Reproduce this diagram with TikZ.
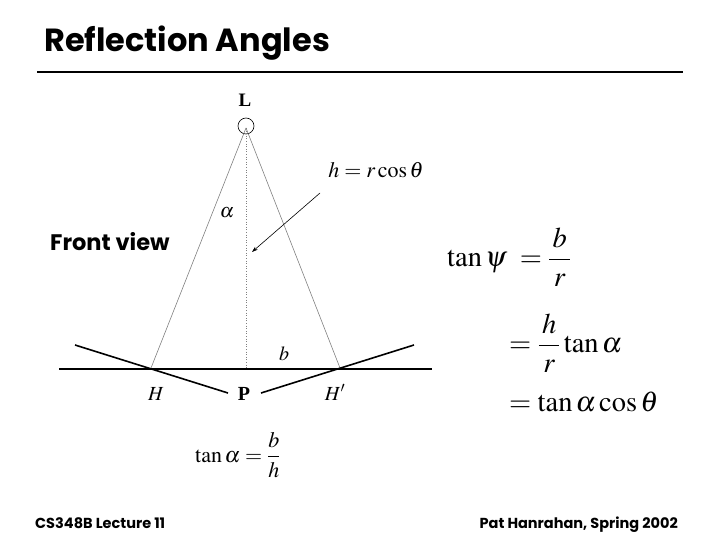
\documentclass[tikz,border=0pt]{standalone}
\usepackage{amsmath}
\usepackage{mathptmx}
\usepackage{fontspec}
\setmainfont{Liberation Serif}
\newfontfamily\futura{Poppins}
\usetikzlibrary{arrows.meta}
\tikzset{
  thinray/.style={draw=gray, line width=0.6pt},
  mirror/.style={draw=black, line width=1.6pt},
  lbl/.style={inner sep=0pt, anchor=base},
  eqbig/.style={inner sep=0pt, font=\fontsize{28.5}{32}\selectfont},
  eqsmall/.style={inner sep=0pt, font=\fontsize{22}{26}\selectfont},
  headfont/.style={inner sep=0pt, anchor=base west, font=\futura\bfseries\fontsize{32}{38}\selectfont},
  footfont/.style={inner sep=0pt, font=\futura\bfseries\fontsize{14.5}{17}\selectfont},
}
\begin{document}
\begin{tikzpicture}[x=1pt, y=-1pt]
\useasboundingbox (0,0) rectangle (720,540);
% title
\node[headfont] (title) at (44,52) {Reflection Angles};
\draw[line width=2pt] (37,72) coordinate (r1) -- (683,72) coordinate (r2);
% light
\node[lbl, font=\bfseries\fontsize{19}{22}\selectfont] (Llbl) at (245,107) {L};
\node[draw, circle, minimum size=16pt, inner sep=0pt, line width=0.6pt] (Lc) at (246,126) {};
\coordinate (apex) at (246,128);
\coordinate (H) at (151,368);
\coordinate (Hp) at (340,368);
\coordinate (foot) at (246,368);
\draw[thinray] (apex) -- (H);
\draw[thinray] (apex) -- (Hp);
\draw[gray, line width=0.6pt, dotted] (apex) -- (foot);
% surfaces
\coordinate (g1) at (59,369);
\coordinate (g2) at (432,369);
\draw[mirror] (g1) -- (g2);
\coordinate (m1a) at (75,345);
\coordinate (m1b) at (228,393);
\coordinate (m2a) at (261,393);
\coordinate (m2b) at (414,345);
\draw[mirror] (m1a) -- (m1b);
\draw[mirror] (m2a) -- (m2b);
% labels
\node[lbl, font=\fontsize{20}{24}\selectfont] (Hl) at (156,400) {$H$};
\node[lbl, font=\bfseries\fontsize{20}{24}\selectfont] (Pl) at (244,400) {P};
\node[lbl, font=\fontsize{20}{24}\selectfont] (Hpl) at (335,400) {$H'$};
\node[lbl, font=\fontsize{20}{24}\selectfont] (bl) at (284,360) {$b$};
\node[lbl, font=\fontsize{20}{24}\selectfont] (al) at (227,218) {$\alpha$};
\node[lbl, font=\fontsize{22}{26}\selectfont] (hr) at (376,178) {$h = r\cos\theta$};
\coordinate (arS) at (320,193);
\coordinate (arE) at (252,252);
\draw[-{Stealth[length=6pt,width=4pt]}, line width=0.6pt] (arS) -- (arE);
\node[inner sep=0pt, anchor=base west, font=\futura\bfseries\fontsize{22.5}{26}\selectfont] (fv) at (50,250) {Front view};
% tan alpha = b/h
\node[eqsmall, anchor=west] (ta) at (195,455) {$\tan\alpha = \dfrac{b}{h}$};
% right equations
\node[eqbig, anchor=west] (e1) at (447,257) {$\tan\psi\;= \dfrac{\,b\,}{r}$};
\node[eqbig, anchor=west] (e2) at (509,343) {$= \dfrac{\,h\,}{r}\tan\alpha$};
\node[eqbig, anchor=base west] (e3) at (509,411) {$= \tan\alpha\cos\theta$};
% footer
\node[footfont, anchor=base west] (f1) at (35,528) {CS348B Lecture 11};
\node[footfont, anchor=base east] (f2) at (678,528) {Pat Hanrahan, Spring 2002};
\end{tikzpicture}
\end{document}
